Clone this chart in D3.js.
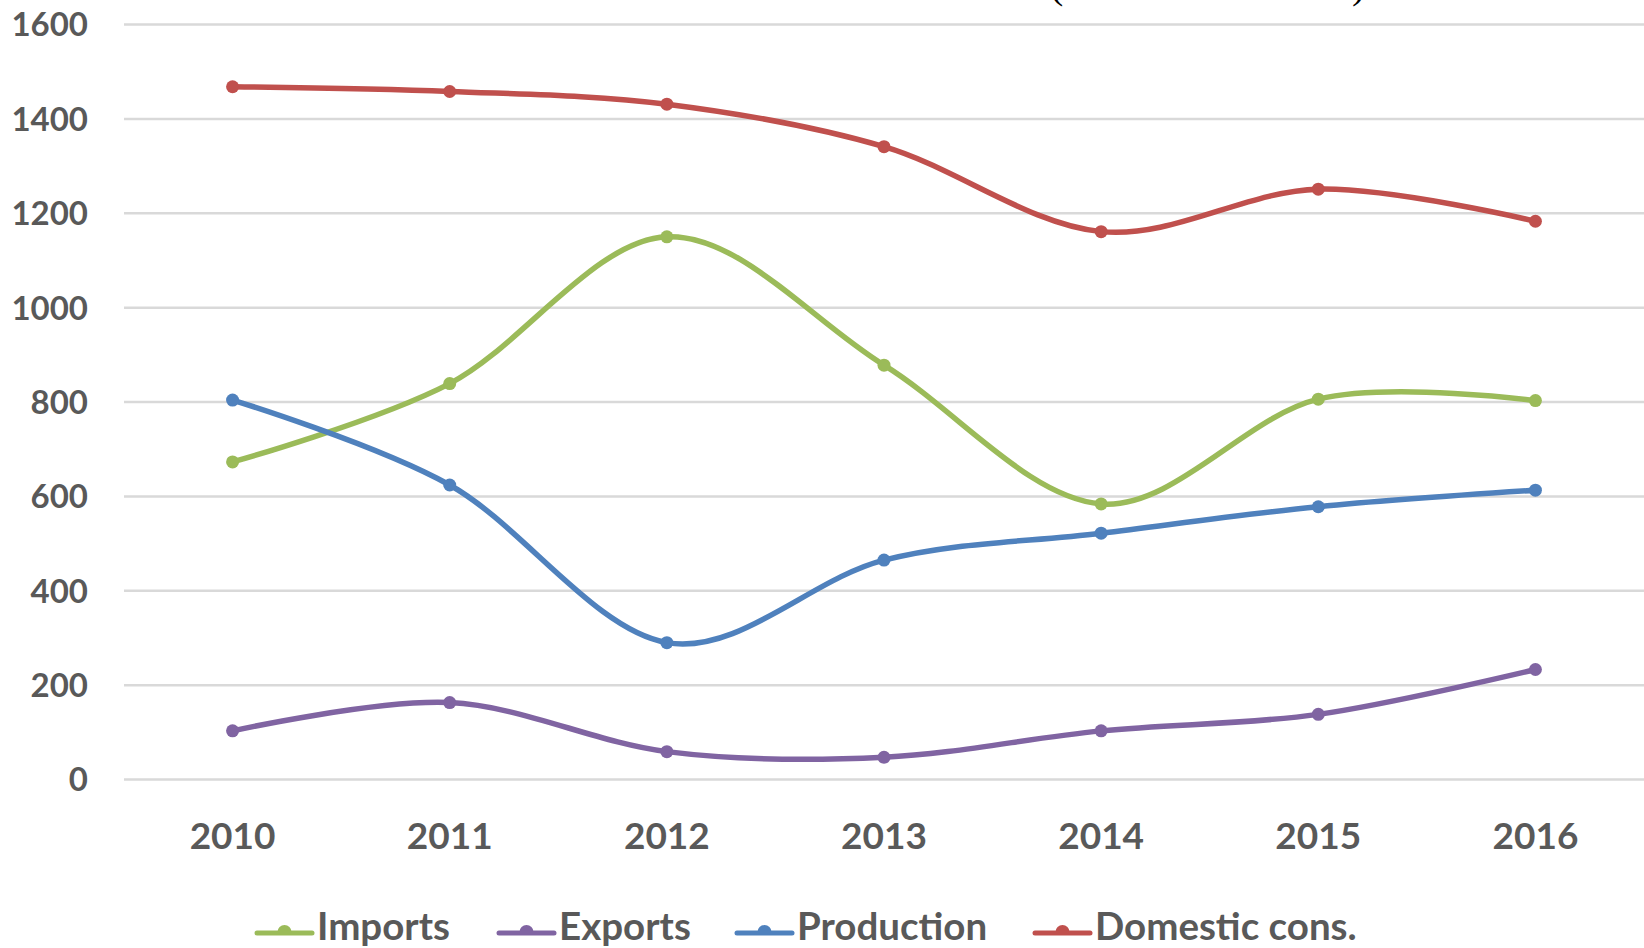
<!DOCTYPE html>
<html>
<head>
<meta charset="utf-8">
<script src="https://cdn.jsdelivr.net/npm/d3@7"></script>
<style>
  html, body { margin: 0; padding: 0; background: #fff; overflow: hidden; }
  svg { display: block; }
</style>
</head>
<body>
<svg id="chart" width="1644" height="948"></svg>
<script>
// Yearly volumes by flow
const years = ["2010", "2011", "2012", "2013", "2014", "2015", "2016"];
const imports = [672, 838, 1149, 877, 583, 805, 802];
const exportsVals = [102, 162, 58, 46, 102, 137, 232];
const production = [803, 623, 289, 464, 521, 577, 612];
const domestic = [1467, 1457, 1430, 1340, 1160, 1250, 1182];
const yTicks = [0, 200, 400, 600, 800, 1000, 1200, 1400, 1600];
const seriesNames = ["Imports", "Exports", "Production", "Domestic cons."];
const seriesColors = ["#9BBB59", "#8064A2", "#4F81BD", "#C0504D"];

const series = [imports, exportsVals, production, domestic].map((vals, i) => ({
  name: seriesNames[i], color: seriesColors[i], values: vals
}));

const svg = d3.select("#chart");
const plot = { left: 124, right: 1644, top: 24, bottom: 779 };
const font = "Lato, 'Open Sans', 'Liberation Sans', sans-serif";
const textColor = "#595959";

const x = d3.scaleBand().domain(years).range([plot.left, plot.right]).padding(0);
const y = d3.scaleLinear().domain([0, 1600]).range([plot.bottom, plot.top]);
const cx = d => x(d) + x.bandwidth() / 2;

// Title fragment, mostly above the visible area
const title = svg.append("g").attr("font-family", "'Liberation Serif', 'Times New Roman', serif")
  .attr("font-size", 40).attr("fill", "#000");
title.append("text").attr("x", 1050).attr("y", -2).text("(");
title.append("text").attr("x", 1352).attr("y", -2).text(")");

// Horizontal gridlines and value labels
const yAxis = svg.append("g")
  .attr("transform", `translate(${plot.left},0)`)
  .call(d3.axisLeft(y).tickValues(yTicks).tickSize(-(plot.right - plot.left)).tickPadding(36).tickFormat(d3.format("d")));
yAxis.select(".domain").remove();
yAxis.selectAll(".tick line").attr("stroke", "#D9D9D9").attr("stroke-width", 2.5);
yAxis.selectAll(".tick text")
  .attr("fill", textColor).attr("font-family", font).attr("font-weight", 700)
  .attr("font-size", 33).attr("dy", "0.36em");

// Category labels
const xAxis = svg.append("g")
  .attr("transform", `translate(0,${plot.bottom})`)
  .call(d3.axisBottom(x).tickSize(0).tickPadding(0));
xAxis.select(".domain").remove();
xAxis.selectAll(".tick text")
  .attr("fill", textColor).attr("font-family", font).attr("font-weight", 700)
  .attr("font-size", 37).attr("dy", 0).attr("y", 70);

// Smoothed lines with point markers
const line = d3.line()
  .x((d, i) => cx(years[i]))
  .y(d => y(d))
  .curve(d3.curveCardinal.tension(0));

const g = svg.append("g");
series.forEach(s => {
  g.append("path")
    .attr("d", line(s.values))
    .attr("fill", "none")
    .attr("stroke", s.color)
    .attr("stroke-width", 5.5)
    .attr("stroke-linecap", "round");
  g.selectAll(null).data(s.values).enter().append("circle")
    .attr("cx", (d, i) => cx(years[i]))
    .attr("cy", d => y(d))
    .attr("r", 6.5)
    .attr("fill", s.color);
});

// Legend
const legendX = [257, 499, 737, 1035];
const legendY = 933;
const legend = svg.append("g");
series.forEach((s, i) => {
  const lg = legend.append("g").attr("transform", `translate(${legendX[i]},${legendY})`);
  lg.append("line").attr("x1", 0).attr("x2", 55).attr("y1", 0).attr("y2", 0)
    .attr("stroke", s.color).attr("stroke-width", 5).attr("stroke-linecap", "round");
  lg.append("path").attr("d", d3.arc()({ innerRadius: 0, outerRadius: 7, startAngle: -Math.PI / 2, endAngle: Math.PI / 2 }))
    .attr("transform", "translate(27.5,-1)").attr("fill", s.color);
  lg.append("text").attr("x", 60).attr("y", 7)
    .attr("fill", textColor).attr("font-family", font).attr("font-weight", 700)
    .attr("font-size", 38.5).text(s.name);
});
</script>
</body>
</html>
